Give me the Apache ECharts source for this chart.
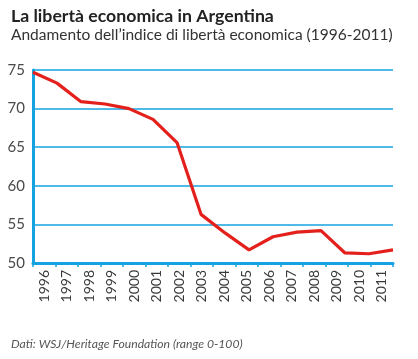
<!DOCTYPE html>
<html><head><meta charset="utf-8">
<script src="https://cdn.jsdelivr.net/npm/echarts@6/dist/echarts.min.js"></script>
<style>html,body{margin:0;padding:0;background:#fff}#c{width:418px;height:359px}</style>
</head><body><div id="c"></div>
<script>
var years = ['1996','1997','1998','1999','2000','2001','2002','2003','2004','2005','2006','2007','2008','2009','2010','2011'];
var indexValues = [74.7, 73.3, 70.9, 70.6, 70.0, 68.6, 65.6, 56.3, 53.9, 51.7, 53.4, 54.0, 54.2, 51.3, 51.2, 51.7];
var yTicks = [50, 55, 60, 65, 70, 75];
var titleText = 'La libertà economica in Argentina';
var subtitleText = 'Andamento dell\u2019indice di libertà economica (1996-2011)';
var sourceText = 'Dati: WSJ/Heritage Foundation (range 0-100)';

var blue = '#14a2e0';
var chart = echarts.init(document.getElementById('c'), null, {renderer: 'canvas'});
chart.setOption({
  animation: false,
  backgroundColor: '#fff',
  title: [
    {text: titleText, left: 6, top: 2, textStyle: {fontFamily: 'Lato', fontSize: 17.7, fontWeight: 'bold', color: '#222'}},
    {text: subtitleText, left: 6, top: 22, textStyle: {fontFamily: 'Lato', fontSize: 15.5, fontWeight: 'normal', color: '#333'}},
    {text: sourceText, left: 6, top: 333, textStyle: {fontFamily: 'Lato', fontSize: 12.2, fontWeight: 'normal', fontStyle: 'italic', color: '#555'}}
  ],
  grid: {left: 33, right: 25, top: 70, bottom: 96, containLabel: false},
  xAxis: [
    {type: 'category', data: years, boundaryGap: true, position: 'bottom',
     axisLine: {show: true, lineStyle: {color: blue, width: 3}},
     axisTick: {show: true, inside: false, length: 4, lineStyle: {color: blue, width: 1.5}},
     axisLabel: {rotate: 90, fontFamily: 'Lato', fontSize: 14, color: '#3a3a3a', margin: 7}},
    {type: 'category', data: years, boundaryGap: false, show: false}
  ],
  yAxis: {type: 'value', min: yTicks[0], max: yTicks[yTicks.length-1], interval: 5,
    axisLine: {show: true, lineStyle: {color: blue, width: 3}},
    axisTick: {show: false},
    splitLine: {show: true, lineStyle: {color: blue, width: 1.5}},
    axisLabel: {fontFamily: 'Lato', fontSize: 15, color: '#4a4a4a', margin: 8}},
  series: [{type: 'line', xAxisIndex: 1, data: indexValues, symbol: 'none',
    lineStyle: {color: '#e3201b', width: 3.2}, z: 5}]
});
</script></body></html>
